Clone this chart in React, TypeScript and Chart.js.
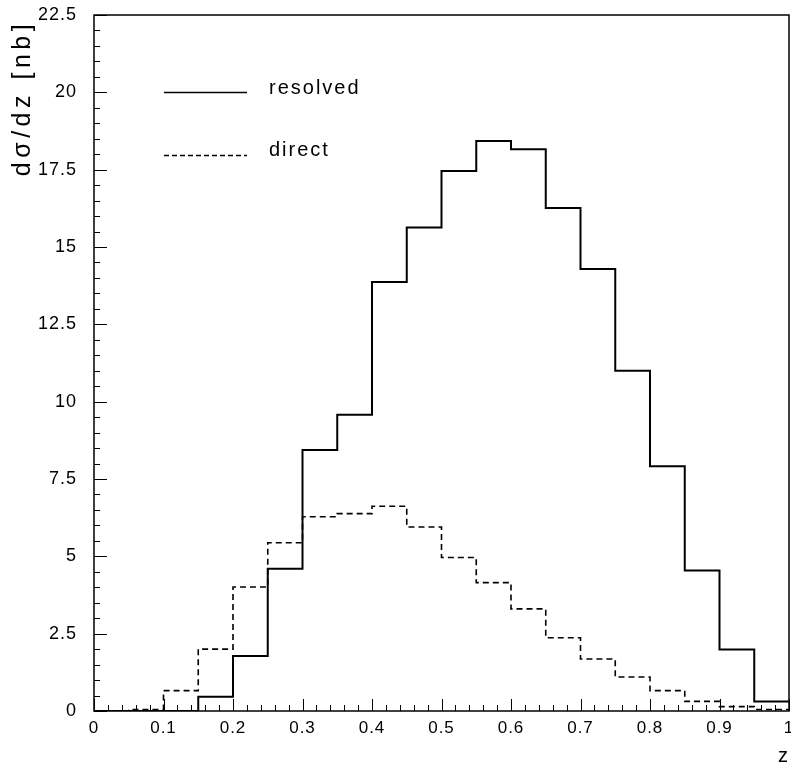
import React, { useEffect, useRef } from "react";
import { Chart, registerables } from "chart.js";

Chart.register(...registerables);

// Histogram bin left edges (width 0.05) and the upper edge of the last bin
const binEdges = [0, 0.05, 0.1, 0.15, 0.2, 0.25, 0.3, 0.35, 0.4, 0.45, 0.5, 0.55, 0.6, 0.65, 0.7, 0.75, 0.8, 0.85, 0.9, 0.95, 1.0];

// dσ/dz per bin [nb]
const resolved = [0, 0, 0, 0.46, 1.78, 4.6, 8.44, 9.58, 13.87, 15.63, 17.46, 18.43, 18.16, 16.26, 14.29, 11.0, 7.91, 4.54, 1.99, 0.31];
const direct = [0, 0.05, 0.66, 2.0, 4.01, 5.44, 6.28, 6.38, 6.62, 5.95, 4.96, 4.15, 3.3, 2.37, 1.68, 1.1, 0.66, 0.31, 0.14, 0.05];

const seriesLabels = ["resolved", "direct"];
const xTitle = "z";
const yTitle = "dσ/dz [nb]";

const FONT = "'Liberation Sans', Arial, Helvetica, sans-serif";

// Histogram outline: one point per left edge, plus the closing edge
function histPoints(values: number[]) {
  const pts = values.map((v, i) => ({ x: binEdges[i], y: v }));
  pts.push({ x: binEdges[values.length], y: values[values.length - 1] });
  return pts;
}

function fmt(v: number) {
  return String(Number(v.toFixed(2)));
}

const framePlugin = {
  id: "paw-frame",
  beforeDraw(chart: any) {
    // slightly widened lettering for all axis text
    (chart.ctx as any).letterSpacing = "1px";
  },
  afterDatasetsDraw(chart: any) {
    const { ctx, chartArea: a, scales } = chart;
    const xs = scales.x;
    const ys = scales.y;
    ctx.save();
    ctx.strokeStyle = "#000";
    ctx.lineWidth = 1.5;
    ctx.setLineDash([]);
    ctx.strokeRect(a.left, a.top, a.right - a.left, a.bottom - a.top);

    // inward ticks on the bottom axis
    ctx.lineWidth = 1;
    ctx.beginPath();
    for (let i = 0; i <= 50; i++) {
      const px = Math.round(xs.getPixelForValue(i * 0.02)) + 0.5;
      const len = i % 5 === 0 ? 12 : 6;
      ctx.moveTo(px, a.bottom);
      ctx.lineTo(px, a.bottom - len);
    }
    // inward ticks on the left axis
    for (let i = 0; i <= 45; i++) {
      const py = Math.round(ys.getPixelForValue(i * 0.5)) + 0.5;
      const len = i % 5 === 0 ? 13 : 6;
      ctx.moveTo(a.left, py);
      ctx.lineTo(a.left + len, py);
    }
    ctx.stroke();

    // legend
    ctx.lineWidth = 1.6;
    ctx.beginPath();
    ctx.moveTo(164, 92.5);
    ctx.lineTo(247, 92.5);
    ctx.stroke();
    ctx.setLineDash([5, 3]);
    ctx.beginPath();
    ctx.moveTo(164, 155.5);
    ctx.lineTo(247, 155.5);
    ctx.stroke();
    ctx.setLineDash([]);

    ctx.fillStyle = "#000";
    ctx.font = `20px ${FONT}`;
    (ctx as any).letterSpacing = "2px";
    ctx.textAlign = "left";
    ctx.textBaseline = "alphabetic";
    ctx.fillText(seriesLabels[0], 269, 94);
    ctx.fillText(seriesLabels[1], 269, 156);

    // axis titles
    (ctx as any).letterSpacing = "0px";
    ctx.textAlign = "center";
    ctx.fillText(xTitle, 783, 762);

    ctx.translate(23, 98);
    ctx.rotate(-Math.PI / 2);
    ctx.font = `25px ${FONT}`;
    (ctx as any).letterSpacing = "4.5px";
    ctx.textBaseline = "middle";
    ctx.fillText(yTitle, 0, 0);
    (ctx as any).letterSpacing = "0px";
    ctx.restore();
  },
};

export default function App() {
  const ref = useRef<HTMLCanvasElement | null>(null);

  useEffect(() => {
    if (!ref.current) return;
    const chart = new Chart(ref.current, {
      type: "line",
      data: {
        datasets: [
          {
            label: seriesLabels[0],
            data: histPoints(resolved),
            borderColor: "#000",
            borderWidth: 2,
            stepped: "before",
            pointRadius: 0,
            fill: false,
          },
          {
            label: seriesLabels[1],
            data: histPoints(direct),
            borderColor: "#000",
            borderWidth: 1.6,
            borderDash: [6, 4],
            stepped: "before",
            pointRadius: 0,
            fill: false,
          },
        ],
      },
      options: {
        animation: false,
        responsive: false,
        events: [],
        layout: { padding: { top: 15, right: 2, left: 0, bottom: 0 } },
        plugins: {
          legend: { display: false },
          tooltip: { enabled: false },
          title: { display: false },
        },
        scales: {
          x: {
            type: "linear",
            min: 0,
            max: 1,
            grid: { display: false, drawTicks: false },
            border: { display: false },
            ticks: {
              stepSize: 0.1,
              padding: 7,
              color: "#000",
              maxRotation: 0,
              autoSkip: false,
              font: { family: FONT, size: 17 },
              callback: (v: any) => fmt(Number(v)),
            },
            afterFit: (s: any) => {
              s.height = 60;
              s.paddingLeft = 0;
              s.paddingRight = 0;
            },
          },
          y: {
            type: "linear",
            min: 0,
            max: 22.5,
            grid: { display: false, drawTicks: false },
            border: { display: false },
            ticks: {
              stepSize: 2.5,
              padding: 17,
              color: "#000",
              autoSkip: false,
              font: { family: FONT, size: 18 },
              callback: (v: any) => fmt(Number(v)),
            },
            afterFit: (s: any) => {
              s.width = 94;
              s.paddingTop = 0;
              s.paddingBottom = 0;
            },
          },
        },
      },
      plugins: [framePlugin],
    });
    return () => chart.destroy();
  }, []);

  return (
    <div style={{ position: "absolute", left: 0, top: 0, width: 791, height: 771, background: "#fff" }}>
      <canvas ref={ref} width={791} height={771} style={{ display: "block" }} />
    </div>
  );
}
